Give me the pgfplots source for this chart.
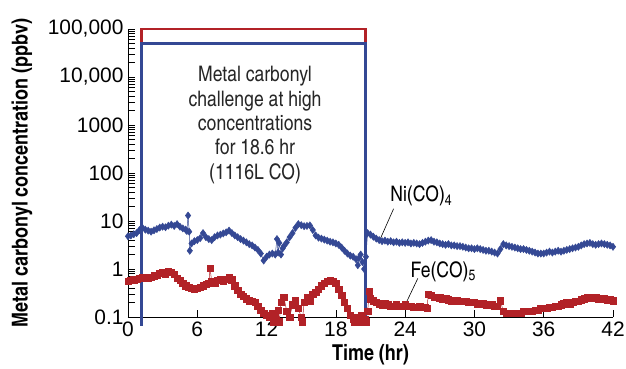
\documentclass[border=0pt]{standalone}
\usepackage{pgfplots}
\pgfplotsset{compat=1.18}
\usepackage{fontspec}
\setmainfont{texgyreheroscn}[Extension=.otf, UprightFont=*-regular, BoldFont=*-bold, ItalicFont=*-italic, BoldItalicFont=*-bolditalic]
\newfontfamily\tickfont{Liberation Sans}
\definecolor{niblue}{RGB}{52,72,148}
\definecolor{fered}{RGB}{178,34,39}
\pgfplotstableread{
x y
0.0 4.8
0.25 5.0
0.5 5.3
0.75 5.6
1.0 6.5
1.25 7.2
1.5 6.6
1.75 6.3
2.0 6.0
2.25 6.4
2.5 6.8
2.75 7.3
3.0 7.6
3.25 7.4
3.5 8.0
3.75 8.4
4.0 7.9
4.25 8.6
4.5 7.6
4.75 7.0
5.0 6.6
5.1 6.2
5.2 13.0
5.3 6.0
5.35 2.4
5.5 3.4
5.75 3.8
6.0 4.0
6.25 4.4
6.5 5.6
6.75 4.6
7.0 4.2
7.25 4.0
7.5 4.6
7.75 5.0
8.0 5.2
8.25 5.5
8.5 5.8
8.75 6.3
9.0 5.6
9.25 5.0
9.5 4.6
9.75 4.2
10.0 3.9
10.25 3.6
10.5 3.3
10.75 3.1
11.0 2.8
11.25 2.5
11.5 2.1
11.75 1.5
12.0 1.8
12.25 2.0
12.5 2.1
12.75 2.0
12.9 4.2
13.0 2.2
13.1 3.5
13.25 2.0
13.4 2.7
13.5 3.0
13.75 3.6
14.0 4.6
14.25 5.6
14.5 7.2
14.75 8.6
15.0 8.2
15.25 7.8
15.5 7.9
15.75 8.1
16.0 6.5
16.25 5.0
16.5 4.5
16.75 4.3
17.0 4.1
17.25 3.9
17.5 3.7
17.75 3.6
18.0 3.4
18.25 3.2
18.5 2.8
18.75 2.4
19.0 2.1
19.25 1.9
19.5 1.8
19.75 1.6
19.9 1.2
20.0 1.7
20.15 2.0
20.3 1.4
20.45 1.0
20.6 1.8
20.75 5.6
21.0 5.2
21.25 4.7
21.5 4.3
21.75 4.0
22.0 3.8
22.25 3.9
22.5 3.7
22.75 3.8
23.0 3.6
23.25 3.7
23.5 3.5
23.75 3.6
24.0 3.5
24.25 3.6
24.5 3.4
24.75 3.5
25.0 3.4
25.25 3.3
25.5 3.5
25.75 3.7
26.0 3.9
26.25 4.0
26.5 3.7
26.75 3.6
27.0 3.4
27.25 3.3
27.5 3.2
27.75 3.3
28.0 3.1
28.25 3.1
28.5 3.0
28.75 3.0
29.0 2.9
29.25 2.8
29.5 2.7
29.75 2.7
30.0 2.6
30.25 2.7
30.5 2.6
30.75 2.5
31.0 2.4
31.25 2.4
31.5 2.3
31.75 2.2
32.0 2.1
32.25 2.6
32.5 3.3
32.75 3.1
33.0 3.0
33.25 2.9
33.5 2.8
33.75 2.7
34.0 2.6
34.25 2.6
34.5 2.5
34.75 2.4
35.0 2.3
35.25 2.2
35.5 2.1
35.75 2.1
36.0 2.1
36.25 2.2
36.5 2.3
36.75 2.2
37.0 2.3
37.25 2.4
37.5 2.3
37.75 2.4
38.0 2.5
38.25 2.6
38.5 2.7
38.75 2.8
39.0 2.9
39.25 3.1
39.5 3.3
39.75 3.4
40.0 3.5
40.25 3.3
40.5 3.2
40.75 3.3
41.0 3.4
41.25 3.3
41.5 3.2
41.75 3.1
42.0 2.9
}\nidata
\pgfplotstableread{
x y
0.0 0.55
0.25 0.58
0.5 0.60
0.75 0.62
1.0 0.65
1.25 0.68
1.5 0.66
1.75 0.64
2.0 0.68
2.25 0.72
2.5 0.75
2.75 0.82
3.0 0.85
3.25 0.80
3.5 0.88
3.75 0.86
4.0 0.78
4.25 0.65
4.5 0.58
4.75 0.50
5.0 0.45
5.25 0.42
5.5 0.40
5.75 0.38
6.0 0.40
6.25 0.42
6.5 0.45
6.75 0.48
7.0 0.50
7.1 1.05
7.25 0.55
7.5 0.52
7.75 0.58
8.0 0.60
8.25 0.55
8.5 0.62
8.75 0.66
9.0 0.60
9.25 0.45
9.5 0.36
9.75 0.30
10.0 0.27
10.25 0.24
10.5 0.22
10.75 0.21
11.0 0.20
11.25 0.17
11.5 0.14
11.75 0.12
12.0 0.11
12.25 0.10
12.5 0.12
12.6 0.08
12.75 0.11
13.0 0.14
13.1 0.08
13.25 0.20
13.5 0.26
13.75 0.13
14.0 0.10
14.25 0.18
14.5 0.22
14.75 0.15
15.0 0.10
15.1 0.08
15.25 0.20
15.5 0.25
15.75 0.22
16.0 0.30
16.25 0.33
16.5 0.38
16.75 0.45
17.0 0.50
17.25 0.55
17.5 0.58
17.75 0.56
18.0 0.50
18.25 0.38
18.5 0.28
18.75 0.20
19.0 0.15
19.25 0.11
19.5 0.09
19.6 0.08
19.75 0.10
20.0 0.09
20.1 0.08
20.25 0.11
20.5 0.09
20.6 0.08
20.75 0.13
20.9 0.34
21.0 0.24
21.25 0.22
21.5 0.20
21.75 0.19
22.0 0.18
22.25 0.19
22.5 0.18
22.75 0.17
23.0 0.17
23.25 0.18
23.5 0.17
23.75 0.17
24.0 0.18
24.25 0.17
24.5 0.17
24.75 0.16
25.0 0.16
25.25 0.17
25.5 0.16
25.75 0.16
25.9 0.15
26.0 0.30
26.25 0.28
26.5 0.26
26.75 0.26
27.0 0.25
27.25 0.24
27.5 0.24
27.75 0.23
28.0 0.22
28.25 0.22
28.5 0.22
28.75 0.21
29.0 0.21
29.25 0.21
29.5 0.20
29.75 0.20
30.0 0.20
30.25 0.19
30.5 0.19
30.75 0.19
31.0 0.18
31.25 0.18
31.5 0.18
31.75 0.17
32.0 0.17
32.25 0.22
32.5 0.13
32.75 0.12
33.0 0.12
33.25 0.12
33.5 0.12
33.75 0.12
34.0 0.12
34.25 0.13
34.5 0.13
34.75 0.13
35.0 0.13
35.25 0.14
35.5 0.14
35.75 0.15
36.0 0.15
36.25 0.15
36.5 0.16
36.75 0.16
37.0 0.17
37.25 0.17
37.5 0.18
37.75 0.19
38.0 0.20
38.25 0.19
38.5 0.20
38.75 0.21
39.0 0.21
39.25 0.23
39.5 0.24
39.75 0.25
40.0 0.26
40.25 0.25
40.5 0.25
40.75 0.24
41.0 0.24
41.25 0.24
41.5 0.23
41.75 0.23
42.0 0.22
}\fedata
\begin{document}
\begin{tikzpicture}
\begin{axis}[
  scale only axis,
  width=485bp, height=288bp,
  ymode=log,
  xmin=0, xmax=42, ymin=0.1, ymax=100000,
  axis x line*=bottom, axis y line*=left,
  axis line style={line width=0.8pt},
  clip=false,
  xtick={0,6,12,18,24,30,36,42},
  xticklabels={0,6,12,18,24,30,36,42},
  ytick={0.1,1,10,100,1000,10000,100000},
  yticklabels={0.1,1,10,100,1000,{10,000},{100,000}},
  tick align=inside,
  major tick length=7bp, minor tick length=7bp,
  every tick/.style={black, line width=0.6pt},
  tick label style={font=\tickfont\fontsize{21}{23}\selectfont},
  yticklabel style={xshift=-1bp},
  xticklabel style={yshift=-1bp},
  /pgf/number format/assume math mode=true,
  xlabel={\textbf{Time (hr)}},
  ylabel={\textbf{Metal carbonyl concentration (ppbv)}},
  label style={font=\fontsize{22}{24}\selectfont},
  xlabel style={at={(axis description cs:0.5,-0.132)}, anchor=center},
  ylabel style={at={(axis description cs:-0.2186,0.5)}, anchor=center},
]
\addplot[niblue, line width=0.5pt, mark=diamond*, mark size=3.6pt, mark options={solid, fill=niblue}] table[x=x,y=y] {\nidata};
\addplot[fered, line width=0.5pt, mark=square*, mark size=3.2pt, mark options={solid, fill=fered}] table[x=x,y=y] {\fedata};
\addplot[fered, line width=2.8pt, line join=miter] coordinates {(1.2,50000) (1.2,100000) (20.6,100000) (20.6,50000)};
\addplot[niblue, line width=2.8pt, line join=miter] coordinates {(1.2,0.065) (1.2,50000) (20.6,50000) (20.6,0.065)};
\node[align=center, font=\fontsize{21.5}{24.5}\selectfont, text=black!85] at (axis cs:11,1000) {Metal carbonyl\\challenge at high\\concentrations\\for 18.6 hr\\(1116L CO)};
\draw[black, line width=0.6pt] (axis cs:21.8,4.0) -- (axis cs:23.0,18);
\node[font=\fontsize{21.5}{24}\selectfont] at (axis cs:25.4,33) {Ni(CO)\textsubscript{4}};
\draw[black, line width=0.6pt] (axis cs:24.0,0.178) -- (axis cs:25.1,0.64);
\node[font=\fontsize{21.5}{24}\selectfont] at (axis cs:27.3,0.87) {Fe(CO)\textsubscript{5}};
\end{axis}
\pgfresetboundingbox
\path ([shift={(-128bp,-52bp)}]current axis.south west) rectangle ([shift={(13bp,29bp)}]current axis.north east);
\end{tikzpicture}
\end{document}
